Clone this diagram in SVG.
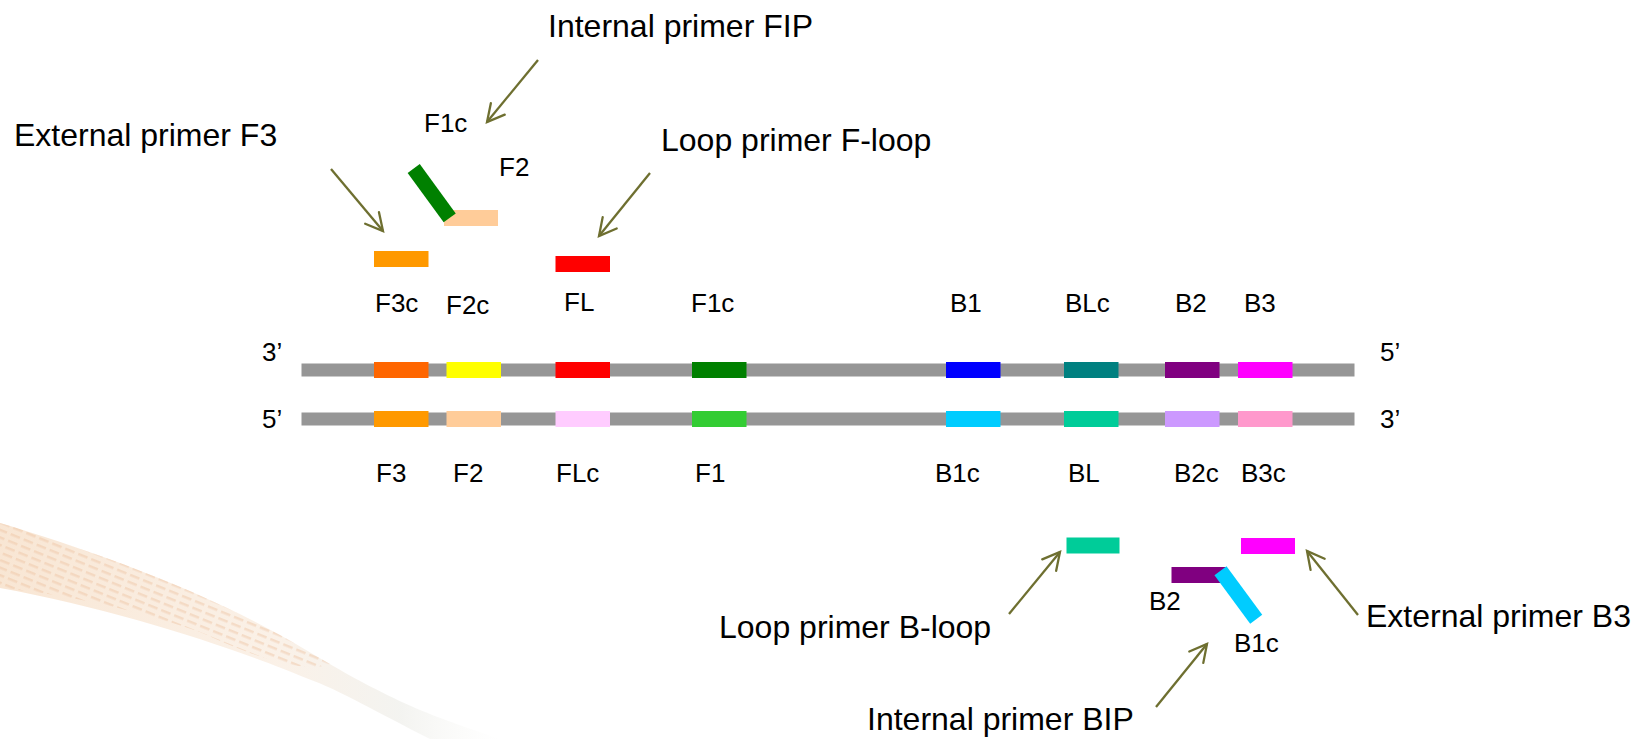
<svg xmlns="http://www.w3.org/2000/svg" width="1644" height="739" viewBox="0 0 1644 739">
<defs>
<style>
.lbl{font-family:"Liberation Sans",Arial,sans-serif;font-size:26px;fill:#000}
.big{font-family:"Liberation Sans",Arial,sans-serif;font-size:32px;fill:#000}
.strand{fill:#969696}
.arr{stroke:#6E6F30;stroke-width:2.3;fill:none;marker-end:url(#vhead)}
</style>
<marker id="vhead" markerUnits="userSpaceOnUse" markerWidth="40" markerHeight="40" viewBox="-20 -20 40 40" refX="0" refY="0" orient="auto">
<path d="M-17,-9 L0,0 L-17,9" fill="none" stroke="#6E6F30" stroke-width="2.3" stroke-linecap="round" stroke-linejoin="miter"/>
</marker>
<linearGradient id="streak" x1="0" y1="0" x2="1" y2="0">
<stop offset="0" stop-color="#F2CDA8" stop-opacity="0.5"/>
<stop offset="0.55" stop-color="#F4DCC4" stop-opacity="0.4"/>
<stop offset="0.8" stop-color="#E2E2DA" stop-opacity="0.4"/>
<stop offset="1" stop-color="#EEEEE8" stop-opacity="0"/>
</linearGradient>
<pattern id="dashes" width="14" height="7" patternUnits="userSpaceOnUse" patternTransform="rotate(22)">
<rect x="0" y="0" width="10" height="2.5" fill="#EDC4A2" opacity="0.45"/>
</pattern>
</defs>
<rect width="1644" height="739" fill="#fff"/>
<g id="background-streak">
<path d="M0,523 C90,550 210,592 306,650 S440,718 500,739 L430,739 C380,714 340,690 306,678 C240,650 120,610 0,588 Z" fill="url(#streak)"/>
<path d="M0,523 C90,550 210,592 306,650 L330,664 C300,676 240,650 200,632 C120,605 60,594 0,588 Z" fill="url(#dashes)"/>
</g>
<g id="strands">
<rect class="strand" x="301.5" y="363.5" width="1053" height="13"/>
<rect class="strand" x="301.5" y="412.5" width="1053" height="13"/>
<text class="lbl" x="262" y="361">3’</text>
<text class="lbl" x="262" y="428">5’</text>
<text class="lbl" x="1380" y="361">5’</text>
<text class="lbl" x="1380" y="428">3’</text>
</g>
<g id="seg-F3c"><rect x="374" y="362" width="54.5" height="16" fill="#FF6600"/><text class="lbl" x="375" y="311.5">F3c</text></g>
<g id="seg-F2c"><rect x="446.5" y="362" width="54.5" height="16" fill="#FFFF00"/><text class="lbl" x="446" y="313.5">F2c</text></g>
<g id="seg-FL"><rect x="555.5" y="362" width="54.5" height="16" fill="#FF0000"/><text class="lbl" x="564" y="311">FL</text></g>
<g id="seg-F1c"><rect x="692" y="362" width="54.5" height="16" fill="#008000"/><text class="lbl" x="691" y="311.5">F1c</text></g>
<g id="seg-B1"><rect x="946" y="362" width="54.5" height="16" fill="#0000FF"/><text class="lbl" x="950" y="311.5">B1</text></g>
<g id="seg-BLc"><rect x="1064" y="362" width="54.5" height="16" fill="#008080"/><text class="lbl" x="1065" y="311.5">BLc</text></g>
<g id="seg-B2"><rect x="1165" y="362" width="54.5" height="16" fill="#800080"/><text class="lbl" x="1175" y="311.5">B2</text></g>
<g id="seg-B3"><rect x="1238" y="362" width="54.5" height="16" fill="#FF00FF"/><text class="lbl" x="1244" y="311.5">B3</text></g>
<g id="seg-F3"><rect x="374" y="411" width="54.5" height="16" fill="#FF9900"/><text class="lbl" x="376" y="482">F3</text></g>
<g id="seg-F2"><rect x="446.5" y="411" width="54.5" height="16" fill="#FFCC99"/><text class="lbl" x="453" y="482">F2</text></g>
<g id="seg-FLc"><rect x="555.5" y="411" width="54.5" height="16" fill="#FFCCFF"/><text class="lbl" x="556" y="482">FLc</text></g>
<g id="seg-F1"><rect x="692" y="411" width="54.5" height="16" fill="#33CC33"/><text class="lbl" x="695" y="482">F1</text></g>
<g id="seg-B1c"><rect x="946" y="411" width="54.5" height="16" fill="#00CCFF"/><text class="lbl" x="935" y="482">B1c</text></g>
<g id="seg-BL"><rect x="1064" y="411" width="54.5" height="16" fill="#00CC99"/><text class="lbl" x="1068" y="482">BL</text></g>
<g id="seg-B2c"><rect x="1165" y="411" width="54.5" height="16" fill="#CC99FF"/><text class="lbl" x="1174" y="482">B2c</text></g>
<g id="seg-B3c"><rect x="1238" y="411" width="54.5" height="16" fill="#FF99CC"/><text class="lbl" x="1241" y="482">B3c</text></g>
<g id="primer-F3"><rect x="374" y="251" width="54.5" height="16" fill="#FF9900"/><text class="big" x="14" y="146">External primer F3</text></g>
<g id="primer-FIP">
<rect x="444" y="210" width="54" height="16" fill="#FFCC99"/>
<line x1="413.7" y1="168.5" x2="449.7" y2="217.8" stroke="#008000" stroke-width="15"/>
<text class="lbl" x="424" y="132">F1c</text>
<text class="lbl" x="499" y="176">F2</text>
<text class="big" x="548" y="37">Internal primer FIP</text>
</g>
<g id="primer-Floop"><rect x="555.5" y="256" width="54.5" height="16" fill="#FF0000"/><text class="big" x="661" y="151">Loop primer F-loop</text></g>
<g id="primer-Bloop"><rect x="1066.5" y="537.5" width="53" height="16" fill="#00CC99"/><text class="big" x="719" y="638">Loop primer B-loop</text></g>
<g id="primer-BIP">
<rect x="1171.5" y="567" width="54.5" height="16" fill="#800080"/>
<line x1="1220.5" y1="570.8" x2="1256.2" y2="619.2" stroke="#00CCFF" stroke-width="15"/>
<text class="lbl" x="1149" y="610">B2</text>
<text class="lbl" x="1234" y="652">B1c</text>
<text class="big" x="867" y="730">Internal primer BIP</text>
</g>
<g id="primer-B3"><rect x="1241" y="538" width="54" height="16" fill="#FF00FF"/><text class="big" x="1366" y="627">External primer B3</text></g>
<g id="connectors">
<line class="arr" x1="331" y1="169" x2="383" y2="231"/>
<line class="arr" x1="538" y1="60" x2="487" y2="122"/>
<line class="arr" x1="650" y1="173" x2="599" y2="236"/>
<line class="arr" x1="1009" y1="614" x2="1060" y2="552"/>
<line class="arr" x1="1156" y1="707" x2="1207" y2="644"/>
<line class="arr" x1="1358" y1="615" x2="1307" y2="551"/>
</g>
</svg>
